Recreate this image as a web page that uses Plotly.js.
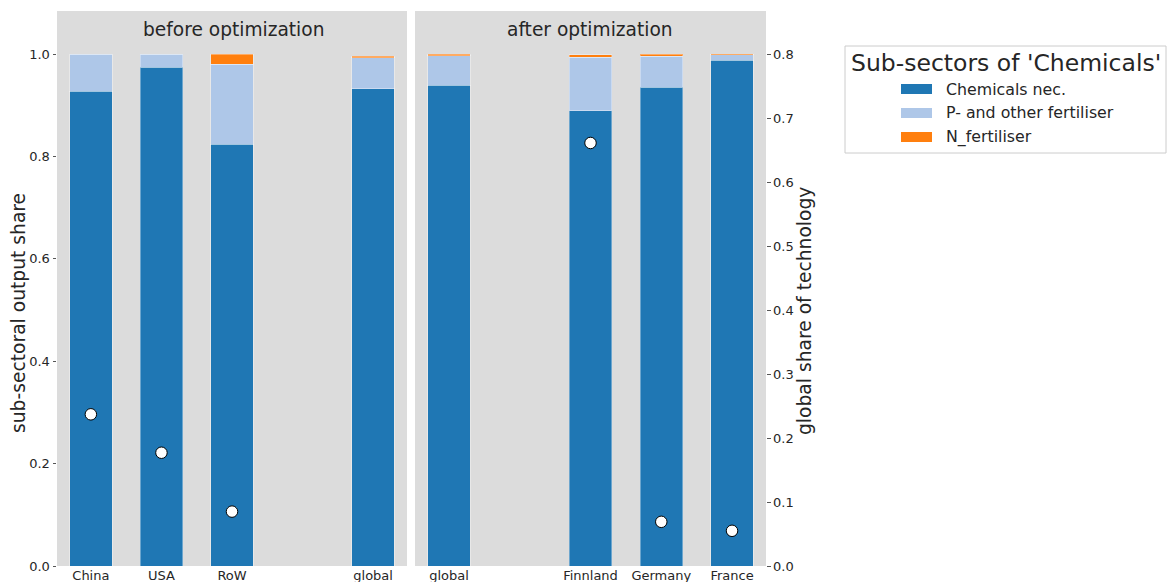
<!DOCTYPE html>
<html>
<head>
<meta charset="utf-8">
<script src="https://cdn.plot.ly/plotly-3.0.1.min.js"></script>
<style>html,body{margin:0;padding:0;background:#fff;}#chart{width:1168px;height:582px;}</style>
</head>
<body>
<div id="chart"></div>
<script>
// ---- data ----
const leftCats = ['China', 'USA', 'RoW', 'global'];
const leftChemicals = [0.927, 0.974, 0.824, 0.932];
const leftPFert = [0.073, 0.026, 0.156, 0.061];
const leftNFert = [0.0, 0.0, 0.020, 0.003];

const rightCats = ['global', 'Finnland', 'Germany', 'France'];
const rightChemicals = [0.939, 0.889, 0.935, 0.988];
const rightPFert = [0.058, 0.105, 0.061, 0.011];
const rightNFert = [0.003, 0.005, 0.004, 0.001];

const leftTechCats = ['China', 'USA', 'RoW'];
const leftTechShare = [0.237, 0.177, 0.085];
const rightTechCats = ['Finnland', 'Germany', 'France'];
const rightTechShare = [0.661, 0.069, 0.055];

const leftOrder = ['China', 'USA', 'RoW', ' ', 'global'];
const rightOrder = ['global', ' ', 'Finnland', 'Germany', 'France'];

const seriesNames = ['Chemicals nec.', 'P- and other fertiliser', 'N_fertiliser'];
const seriesColors = ['#1f77b4', '#aec7e8', '#ff7f0e'];
const panelTitles = ['before optimization', 'after optimization'];
const legendTitle = "Sub-sectors of 'Chemicals'";

// ---- build ----
const W = 1168, H = 582;
const px = v => v / W, py = v => 1 - v / H;
const FONT = 'DejaVu Sans, sans-serif';
const edge = {color: 'rgba(255,255,255,0.35)', width: 1};

const leftSeries = [leftChemicals, leftPFert, leftNFert];
const rightSeries = [rightChemicals, rightPFert, rightNFert];
const traces = [];
seriesNames.forEach((name, i) => {
  traces.push({type: 'bar', x: leftCats, y: leftSeries[i], name: name, xaxis: 'x', yaxis: 'y',
    marker: {color: seriesColors[i], line: edge}, showlegend: false});
  traces.push({type: 'bar', x: rightCats, y: rightSeries[i], name: name, xaxis: 'x2', yaxis: 'y2',
    marker: {color: seriesColors[i], line: edge}, showlegend: false});
});
traces.push({type: 'scatter', mode: 'markers', x: leftTechCats, y: leftTechShare, xaxis: 'x', yaxis: 'y4',
  marker: {color: 'white', size: 11.5, line: {color: 'black', width: 1}}, showlegend: false});
traces.push({type: 'scatter', mode: 'markers', x: rightTechCats, y: rightTechShare, xaxis: 'x2', yaxis: 'y3',
  marker: {color: 'white', size: 11.5, line: {color: 'black', width: 1}}, showlegend: false});

const yTop = 11, yBot = 566;
const yDom = [py(yBot), py(yTop)];
const leftRange = [0, (yBot - yTop) / 512];
const rightRange = [0, leftRange[1] * 0.8];
const xRange = [-0.48, 4.48];

const tickFont = {family: FONT, size: 13, color: '#262626'};
const xCommon = {type: 'category', categoryorder: 'array', range: xRange, showgrid: false, zeroline: false,
  showline: false, ticks: '', tickfont: tickFont, fixedrange: true, ticklabelstandoff: 0};

const layout = {
  width: W, height: H,
  margin: {l: 0, r: 0, t: 0, b: 0},
  paper_bgcolor: 'white',
  plot_bgcolor: '#dcdcdc',
  barmode: 'stack',
  bargap: 0.4,
  showlegend: false,
  font: {family: FONT, color: '#262626'},
  xaxis: Object.assign({}, xCommon, {domain: [px(57), px(407)], anchor: 'y', categoryarray: leftOrder}),
  xaxis2: Object.assign({}, xCommon, {domain: [px(415), px(766)], anchor: 'y2', categoryarray: rightOrder}),
  yaxis: {domain: yDom, range: leftRange, anchor: 'x', tickvals: [0, 0.2, 0.4, 0.6, 0.8, 1.0],
    ticktext: ['0.0', '0.2', '0.4', '0.6', '0.8', '1.0'], ticks: 'outside', ticklen: 3.5, tickcolor: '#555',
    showgrid: false, zeroline: false, showline: false, tickfont: tickFont},
  yaxis2: {domain: yDom, range: leftRange, anchor: 'x2', showticklabels: false, ticks: '',
    showgrid: false, zeroline: false, showline: false},
  yaxis3: {range: rightRange, overlaying: 'y2', anchor: 'x2', side: 'right',
    tickvals: [0, 0.1, 0.2, 0.3, 0.4, 0.5, 0.6, 0.7, 0.8],
    ticktext: ['0.0', '0.1', '0.2', '0.3', '0.4', '0.5', '0.6', '0.7', '0.8'],
    ticks: 'outside', ticklen: 3.5, tickcolor: '#555', showgrid: false, zeroline: false, showline: false, tickfont: tickFont},
  yaxis4: {range: rightRange, overlaying: 'y', anchor: 'x', visible: false},
  annotations: [
    {text: panelTitles[0], xref: 'paper', yref: 'paper', x: px(233), y: py(29), showarrow: false,
      xanchor: 'center', yanchor: 'middle', font: {family: FONT, size: 18.6, color: '#262626'}},
    {text: panelTitles[1], xref: 'paper', yref: 'paper', x: px(590), y: py(29), showarrow: false,
      xanchor: 'center', yanchor: 'middle', font: {family: FONT, size: 18.6, color: '#262626'}},
    {text: 'sub-sectoral output share', xref: 'paper', yref: 'paper', x: px(18), y: py(313), showarrow: false,
      textangle: -90, xanchor: 'center', yanchor: 'middle', font: {family: FONT, size: 18.7, color: '#262626'}},
    {text: 'global share of technology', xref: 'paper', yref: 'paper', x: px(804), y: py(311), showarrow: false,
      textangle: -90, xanchor: 'center', yanchor: 'middle', font: {family: FONT, size: 18.7, color: '#262626'}},
    {text: legendTitle, xref: 'paper', yref: 'paper', x: px(849), y: py(63), showarrow: false,
      xanchor: 'left', yanchor: 'middle', font: {family: FONT, size: 23.5, color: '#262626'}}
  ],
  shapes: [
    {type: 'rect', xref: 'paper', yref: 'paper', x0: px(845), x1: px(1166), y0: py(46), y1: py(153),
      line: {color: '#cccccc', width: 1}, fillcolor: 'white', layer: 'below'}
  ]
};

seriesNames.forEach((name, i) => {
  const cy = 89 + i * 24;
  layout.shapes.push({type: 'rect', xref: 'paper', yref: 'paper', x0: px(901), x1: px(932),
    y0: py(cy - 5), y1: py(cy + 5), line: {width: 0}, fillcolor: seriesColors[i]});
  layout.annotations.push({text: name, xref: 'paper', yref: 'paper', x: px(944), y: py(cy), showarrow: false,
    xanchor: 'left', yanchor: 'middle', font: {family: FONT, size: 15.8, color: '#262626'}});
});

Plotly.newPlot('chart', traces, layout, {displayModeBar: false, staticPlot: true});
</script>
</body>
</html>
